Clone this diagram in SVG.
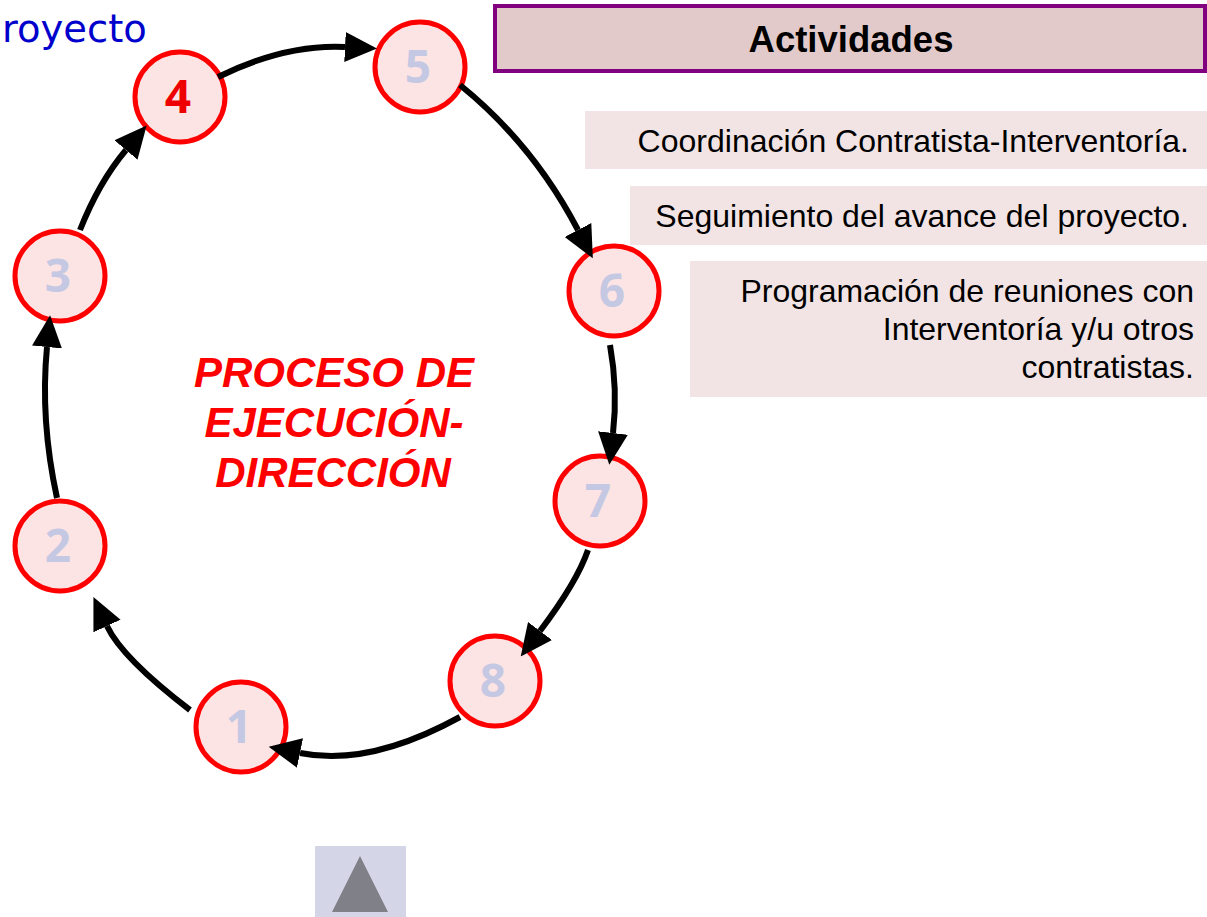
<svg xmlns="http://www.w3.org/2000/svg" width="1207" height="917" viewBox="0 0 1207 917">
<style>
.node circle{fill:#FDE4E4;stroke:#FF0000;stroke-width:5}
.num{font-family:"Open Sans","DejaVu Sans",sans-serif;font-weight:bold;font-size:46px;fill:#C5C8E2;text-anchor:middle}
.num.red{fill:#EE0000}
.conn path{fill:none;stroke:#000;stroke-width:6;marker-end:url(#ah)}
.act{fill:#F2E4E4}
.actt{font-family:"Liberation Sans",Arial,sans-serif;font-size:32px;fill:#000;text-anchor:end}
.title{font-family:"Liberation Sans",Arial,sans-serif;font-size:42px;font-weight:bold;font-style:italic;fill:#FF0000;text-anchor:middle}
</style>
<defs>
<marker id="ah" markerUnits="userSpaceOnUse" markerWidth="32" markerHeight="30" viewBox="0 0 32 30" refX="0" refY="15" orient="auto">
<path d="M0,0 L32,15 L0,30 z" fill="#000"/>
</marker>
</defs>
<rect width="1207" height="917" fill="#fff"/>
<text x="2" y="42" font-family="'DejaVu Sans',Verdana,sans-serif" font-size="38.5" fill="#0000CC">royecto</text>

<g id="actividades-header">
<rect x="495" y="6" width="710" height="65" fill="#E3CACA" stroke="#800080" stroke-width="4"/>
<text x="851" y="52" font-family="'Liberation Sans',Arial,sans-serif" font-size="36.5" font-weight="bold" text-anchor="middle" fill="#000">Actividades</text>
</g>
<g id="act1">
<rect class="act" x="585" y="111" width="622" height="58"/>
<text class="actt" x="1189" y="152">Coordinación Contratista-Interventoría.</text>
</g>
<g id="act2">
<rect class="act" x="630" y="186" width="577" height="59"/>
<text class="actt" x="1189" y="227">Seguimiento del avance del proyecto.</text>
</g>
<g id="act3">
<rect class="act" x="690" y="261" width="517" height="136"/>
<text class="actt" x="1194" y="302">Programación de reuniones con</text>
<text class="actt" x="1194" y="340">Interventoría y/u otros</text>
<text class="actt" x="1194" y="378">contratistas.</text>
</g>

<g id="title">
<text class="title" x="334" y="387">PROCESO DE</text>
<text class="title" x="334" y="437">EJECUCIÓN-</text>
<text class="title" x="333" y="487">DIRECCIÓN</text>
</g>

<g id="n1" class="node"><circle cx="241" cy="727" r="45"/><text class="num" x="239" y="743">1</text></g>
<g id="n2" class="node"><circle cx="60" cy="546" r="45"/><text class="num" x="58" y="562">2</text></g>
<g id="n3" class="node"><circle cx="60" cy="276" r="45"/><text class="num" x="58" y="292">3</text></g>
<g id="n4" class="node"><circle cx="180" cy="97" r="45"/><text class="num red" x="178" y="113">4</text></g>
<g id="n5" class="node"><circle cx="420" cy="67" r="45"/><text class="num" x="418" y="83">5</text></g>
<g id="n6" class="node"><circle cx="614" cy="291" r="45"/><text class="num" x="612" y="307">6</text></g>
<g id="n7" class="node"><circle cx="600" cy="501" r="45"/><text class="num" x="598" y="517">7</text></g>
<g id="n8" class="node"><circle cx="495" cy="681" r="45"/><text class="num" x="493" y="697">8</text></g>

<g id="connectors" class="conn">
<path d="M80,230 Q99,182 126,150"/>
<path d="M218,77 Q285,44 345,47"/>
<path d="M460,85 Q533,144 578,230"/>
<path d="M610,345 Q618,390 613,433"/>
<path d="M588,550 Q577,582 540,631"/>
<path d="M460,717 Q369,767 300,753"/>
<path d="M190,710 Q122,658 107,626"/>
<path d="M57,498 Q40,420 47,347"/>
</g>

<g id="nav-button">
<rect x="315" y="846" width="91" height="71" fill="#D5D5E8"/>
<polygon points="360,856 388,912 332,912" fill="#808088"/>
</g>
</svg>
